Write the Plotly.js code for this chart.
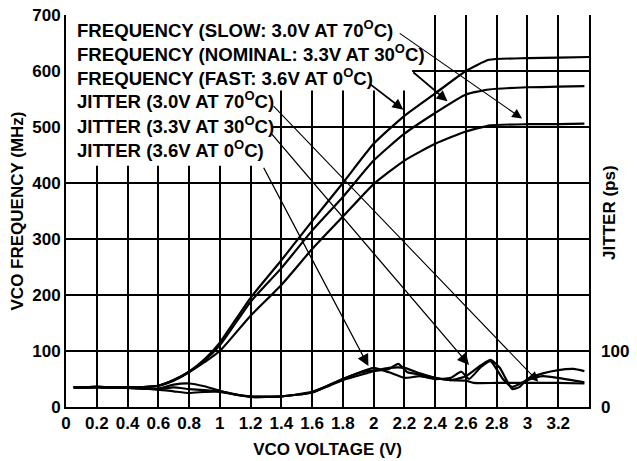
<!DOCTYPE html>
<html>
<head>
<meta charset="utf-8">
<script src="https://cdn.plot.ly/plotly-3.0.1.min.js"></script>
<style>html,body{margin:0;padding:0;background:#fff;}#chart{width:637px;height:461px;}</style>
</head>
<body>
<div id="chart"></div>
<script>
// ---- data ----
const freqSlowV   = [0.05,0.2,0.4,0.6,0.7,0.8,0.9,1.0,1.2,1.4,1.6,1.8,2.0,2.2,2.4,2.6,2.76,3.0,3.2,3.37];
const freqSlowMHz = [35,36,35,38,47,62,80,100,163,218,282,340,398,440,470,492,503,505,505,506];
const freqNomV    = [0.05,0.2,0.4,0.6,0.7,0.8,0.9,1.0,1.2,1.4,1.6,1.8,2.0,2.2,2.4,2.6,2.75,3.0,3.2,3.37];
const freqNomMHz  = [35,36,35,38,48,63,83,110,188,248,315,375,440,488,525,558,567,571,572,573];
const freqFastV   = [0.05,0.2,0.4,0.6,0.7,0.8,0.9,1.0,1.2,1.4,1.6,1.8,2.0,2.2,2.4,2.6,2.75,3.0,3.2,3.4];
const freqFastMHz = [35,36,35,38,48,63,85,115,195,262,332,400,470,520,560,600,620,623,624,625];

const jit70V  = [0.05,0.2,0.4,0.6,0.7,0.8,0.9,1.0,1.1,1.2,1.4,1.6,1.8,1.95,2.0,2.1,2.16,2.22,2.3,2.4,2.5,2.6,2.7,2.76,2.82,2.9,2.95,3.0,3.1,3.2,3.3,3.37];
const jit70ps = [35,36,34,33,40,42,37,29,22,19,19,26,48,60,64,68,77,62,58,52,48,55,75,84,70,32,36,50,60,66,68,64];
const jit30V  = [0.05,0.2,0.4,0.6,0.7,0.8,0.9,1.0,1.2,1.4,1.6,1.8,1.95,2.0,2.1,2.2,2.3,2.4,2.5,2.57,2.62,2.7,2.76,2.84,2.9,3.0,3.1,3.2,3.37];
const jit30ps = [34,35,34,32,35,32,30,27,18,19,27,50,66,70,62,52,55,50,52,63,50,72,82,50,36,48,55,52,44];
const jit0V   = [0.05,0.2,0.4,0.6,0.7,0.8,0.9,1.0,1.2,1.4,1.6,1.8,1.95,2.0,2.1,2.2,2.3,2.4,2.5,2.6,2.65,2.8,3.0,3.2,3.37];
const jit0ps  = [35,35,34,31,28,25,27,28,18,19,26,50,64,65,70,70,60,52,48,47,43,43,43,43,42];

const xTickVals = [0,0.2,0.4,0.6,0.8,1,1.2,1.4,1.6,1.8,2,2.2,2.4,2.6,2.8,3,3.2];
const xTickText = ['0','0.2','0.4','0.6','0.8','1','1.2','1.4','1.6','1.8','2','2.2','2.4','2.6','2.8','3','3.2'];
const legendLabels = [
  'FREQUENCY (SLOW: 3.0V AT 70<sup>O</sup>C)',
  'FREQUENCY (NOMINAL: 3.3V AT 30<sup>O</sup>C)',
  'FREQUENCY (FAST: 3.6V AT 0<sup>O</sup>C)',
  'JITTER (3.0V AT 70<sup>O</sup>C)',
  'JITTER (3.3V AT 30<sup>O</sup>C)',
  'JITTER (3.6V AT 0<sup>O</sup>C)'
];

// ---- chart ----
const FONT = 'Liberation Sans, Arial, sans-serif';
const lineStyle = {color:'#000', width:2.2, shape:'spline', smoothing:0.5};
function tr(x, y, axis){ return {x:x, y:y, type:'scatter', mode:'lines', line:lineStyle, yaxis:axis, hoverinfo:'skip', showlegend:false}; }
const traces = [
  tr(freqSlowV, freqSlowMHz, 'y'),
  tr(freqNomV, freqNomMHz, 'y'),
  tr(freqFastV, freqFastMHz, 'y'),
  tr(jit70V, jit70ps, 'y2'),
  tr(jit30V, jit30ps, 'y2'),
  tr(jit0V, jit0ps, 'y2')
];

const textY = [675, 633, 590, 548, 503, 460];
const annotations = legendLabels.map((t,i)=>({
  text:t, x:0.06, y:textY[i], xref:'x', yref:'y', xanchor:'left', yanchor:'middle',
  showarrow:false, font:{family:FONT, size:18.6, weight:'bold', color:'#000'}
}));
annotations.push({text:'JITTER (ps)', xref:'paper', yref:'paper', x:1.04, y:0.495, textangle:-90,
  xanchor:'center', yanchor:'middle', showarrow:false, font:{family:FONT, size:17, weight:'bold', color:'#000'}});
function arrow(x0,y0,x1,y1,w){
  return {text:'', x:x1, y:y1, ax:x0, ay:y0, xref:'x', yref:'y', axref:'x', ayref:'y',
    showarrow:true, arrowhead:2, arrowsize:w>1.4?1.2:1.8, arrowwidth:w, arrowcolor:'#000', standoff:0, startstandoff:0};
}
annotations.push(arrow(2.16,669,2.965,515,1.1));
annotations.push(arrow(2.248,600,2.48,546,1.8));
annotations.push(arrow(1.965,579,2.193,531,1.8));
annotations.push(arrow(1.34,540,3.07,45,1.1));
annotations.push(arrow(1.33,490,2.62,75,1.3));
annotations.push(arrow(1.28,430,1.966,73,1.3));

const shapes = [
  {type:'rect', xref:'x', yref:'y', x0:0, x1:2.25, y0:565, y1:700, fillcolor:'#fff', line:{width:0}, layer:'between'},
  {type:'rect', xref:'x', yref:'y', x0:0, x1:1.34, y0:431, y1:700, fillcolor:'#fff', line:{width:0}, layer:'between'}
];

const tickFont = {family:FONT, size:17, weight:'bold', color:'#000'};
const titleFont = {family:FONT, size:17, weight:'bold', color:'#000'};
const layout = {
  width:637, height:461,
  margin:{l:66, r:48, t:15, b:54},
  paper_bgcolor:'#fff', plot_bgcolor:'#fff',
  showlegend:false,
  xaxis:{range:[0,3.4], tickvals:xTickVals, ticktext:xTickText, showgrid:true, gridcolor:'#000', gridwidth:2,
    showline:true, linecolor:'#000', linewidth:2, ticks:'', zeroline:false, tickfont:tickFont,
    title:{text:'VCO VOLTAGE (V)', font:titleFont, standoff:11}},
  yaxis:{range:[0,700], dtick:100, showgrid:true, gridcolor:'#000', gridwidth:2,
    showline:true, mirror:true, linecolor:'#000', linewidth:2, ticks:'', zeroline:false, tickfont:tickFont,
    title:{text:'VCO FREQUENCY (MHz)', font:titleFont, standoff:4}},
  yaxis2:{overlaying:'y', side:'right', range:[0,700], tickvals:[0,100], ticktext:['0','100'],
    showgrid:false, showline:false, zeroline:false, ticks:'', tickfont:tickFont, ticklabelstandoff:11},
  annotations:annotations,
  shapes:shapes
};
Plotly.newPlot('chart', traces, layout, {staticPlot:true, displayModeBar:false});
</script>
</body>
</html>
